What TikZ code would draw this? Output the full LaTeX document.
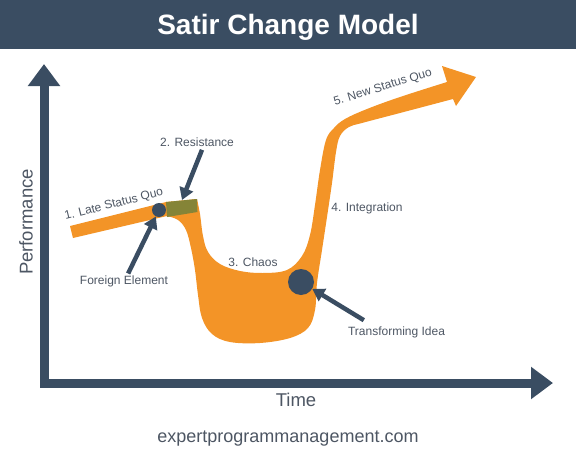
\documentclass[tikz,border=0pt]{standalone}
\usepackage{fontspec}
\setmainfont{Liberation Sans}
\usetikzlibrary{arrows.meta}
\definecolor{slate}{HTML}{3A4D62}
\definecolor{orng}{HTML}{F39427}
\definecolor{olivegreen}{HTML}{858437}
\definecolor{txtgrey}{HTML}{4D5663}

\begin{document}
\begin{tikzpicture}[x=1pt,y=-1pt,
    label node/.style={font=\fontsize{12}{14}\selectfont,text=txtgrey,inner sep=1pt,
                       text height=0.72em,text depth=0.2em},
    axis label/.style={font=\fontsize{18.5}{22}\selectfont,text=txtgrey},
    dot/.style={circle,fill=slate,inner sep=0pt},
    pointer/.style={draw=slate,line width=4.5pt,-{Triangle[width=14pt,length=12pt]}},
    axis line/.style={draw=slate,line width=9pt,line join=miter,
                      {Triangle[width=31pt,length=22pt]}-{Triangle[width=31pt,length=22pt]}}]
  \useasboundingbox (0,0) rectangle (576,450);

  % title bar
  \fill[slate] (0,0) rectangle (576,49);
  \node[font=\bfseries\fontsize{28}{32}\selectfont,text=white,anchor=base] (title) at (288,34) {Satir Change Model};

  % axes
  \coordinate (ytop) at (44,64);
  \coordinate (origin) at (44,383);
  \coordinate (xend) at (553,383);
  \draw[axis line] (ytop) -- (origin) -- (xend);
  \node[axis label,rotate=90] (perf) at (26,222) {Performance};
  \node[axis label] (time) at (296,400) {Time};
  \node[axis label,font=\fontsize{18}{22}\selectfont,anchor=base] (site) at (288,442) {expertprogrammanagement.com};

  % the curve
  \fill[orng] (70,226) -- (166,202) -- (197,199)
    -- plot[smooth,tension=0.6] coordinates {(197,199) (200,214) (203,236) (208,252) (220,264) (240,271)
         (263,273) (287,270) (302,256) (310,235) (315,205) (320,170) (326,140) (334,128) (345,119)
         (367,109) (400,97) (447,82)}
    -- (442,66) -- (476,77) -- (456,106)
    -- plot[smooth,tension=0.6] coordinates {(453,99) (400,113) (362,123) (349,127) (340,136) (336,152)
         (332,183) (327,217) (322,250) (317,283) (315,310) (308,328) (290,338) (260,343) (230,342)
         (212,334) (202,318) (198,295) (195,270) (191,248) (186,230) (178,220) (167,216)}
    -- (73,238) -- cycle;
  \fill[olivegreen] (166,202) -- (197,199) -- (197.5,212) -- (167,217) -- cycle;
  \coordinate (olivetop) at (182,200);

  \node[dot,minimum size=14pt] (fe) at (159,210) {};
  \node[dot,minimum size=26pt] (ti) at (301,282) {};

  % labels
  \node[label node,rotate=14] (lsq) at (114,205) {1. Late Status Quo};
  \node[label node] (resist) at (197,144) {2. Resistance};
  \node[label node] (chaos) at (253,264) {3. Chaos};
  \node[label node] (integ) at (367,209) {4. Integration};
  \node[label node,rotate=17] (nsq) at (383,88) {5. New Status Quo};
  \node[label node] (foreign) at (124,282) {Foreign Element};
  \node[label node] (transform) at (396.5,333) {Transforming Idea};

  % pointers
  \draw[pointer] ([xshift=5pt]resist.south) -- (olivetop);
  \draw[pointer,shorten <=3pt] (foreign) -- (fe);
  \draw[pointer] ([shift={(17pt,7pt)}]transform.north west) -- (ti);
\end{tikzpicture}
\end{document}
